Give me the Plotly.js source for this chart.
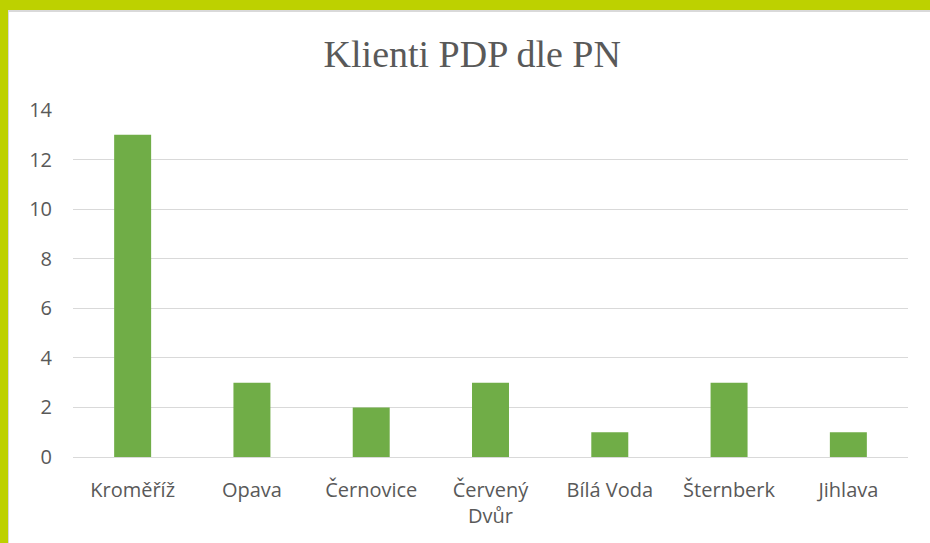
<!DOCTYPE html>
<html>
<head>
<meta charset="utf-8">
<script src="https://cdn.plot.ly/plotly-3.0.1.min.js"></script>
<style>
html,body{margin:0;padding:0;width:930px;height:543px;overflow:hidden;background:#BDD100;}
#frame{position:absolute;left:8px;top:10px;width:922px;height:533px;background:#fff;border-top:2px solid #d9d9d9;border-left:1px solid #d9d9d9;box-sizing:border-box;}
#chart{position:absolute;left:0;top:0;width:921px;height:531px;}
</style>
</head>
<body>
<div id="frame"><div id="chart"></div></div>
<script>
var categories = ["Kroměříž", "Opava", "Černovice", "Červený<br>Dvůr", "Bílá Voda", "Šternberk", "Jihlava"];
var values = [13, 3, 2, 3, 1, 3, 1];
var yTicks = [0, 2, 4, 6, 8, 10, 12, 14];

var trace = {
  type: 'bar',
  x: categories,
  y: values,
  marker: {color: '#70AD47'},
  hoverinfo: 'x+y'
};

var layout = {
  width: 921,
  height: 531,
  margin: {l: 64, r: 22, t: 98, b: 86},
  paper_bgcolor: '#ffffff',
  plot_bgcolor: '#ffffff',
  bargap: 0.69,
  showlegend: false,
  title: {
    text: 'Klienti PDP dle PN',
    font: {family: 'Liberation Serif, DejaVu Serif, serif', size: 38, color: '#595959'},
    x: 0.503, xanchor: 'center',
    y: 1 - 42/531, yanchor: 'middle'
  },
  xaxis: {
    type: 'category',
    tickfont: {family: 'Open Sans, Carlito, sans-serif', size: 20, color: '#595959'},
    showgrid: false,
    showline: true,
    linecolor: '#d9d9d9',
    linewidth: 1,
    ticks: '',
    ticklabelstandoff: 15,
    fixedrange: true
  },
  yaxis: {
    range: [0, 14],
    tickvals: yTicks,
    ticktext: yTicks.map(String),
    tickfont: {family: 'Open Sans, Carlito, sans-serif', size: 20, color: '#595959'},
    showgrid: true,
    gridcolor: '#d9d9d9',
    gridwidth: 1,
    zeroline: false,
    showline: false,
    ticks: '',
    ticklabelstandoff: 20,
    fixedrange: true
  }
};

Plotly.newPlot('chart', [trace], layout, {displayModeBar: false, staticPlot: true});
</script>
</body>
</html>
